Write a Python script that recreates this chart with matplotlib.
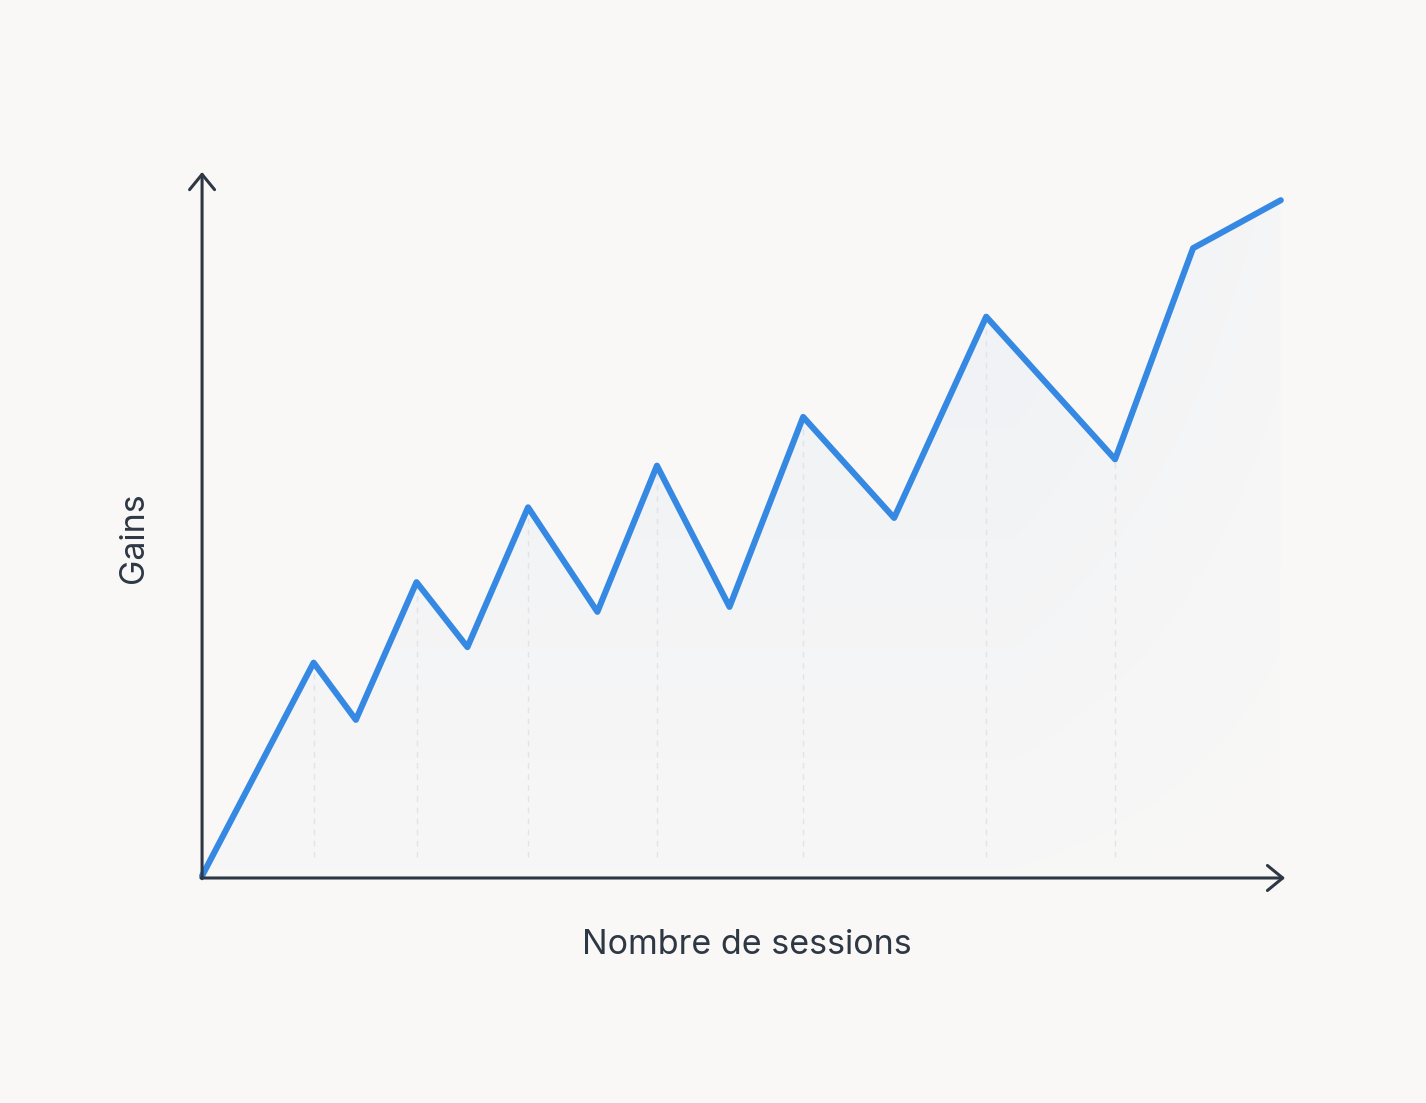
import matplotlib
import matplotlib.pyplot as plt
import numpy as np
from matplotlib.patches import Polygon

matplotlib.use("Agg")

# sessions (x) and gains (y), both on a 0-100 scale
sessions = [0, 10.3, 14.2, 19.8, 24.5, 30.1, 36.5, 42.0, 48.7, 55.5, 63.9, 72.4, 84.3, 91.5, 99.6]
gains = [0.3, 30.5, 22.4, 41.9, 32.7, 52.5, 37.7, 58.4, 38.4, 65.3, 51.0, 79.5, 59.3, 89.2, 96.0]
guide_idx = [1, 3, 5, 7, 9, 11, 12]

x_label = "Nombre de sessions"
y_label = "Gains"

BG = "#f9f8f7"
AXIS = "#2e3744"
BLUE = "#3589e3"


def main():
    fig = plt.figure(figsize=(14.26, 11.03), dpi=100, facecolor=BG)
    ax = fig.add_axes([0.1417, 0.2040, 0.7595, 0.6401])
    ax.set_facecolor(BG)
    ax.set_xlim(0, 100)
    ax.set_ylim(0, 100)
    for s in ax.spines.values():
        s.set_visible(False)
    ax.set_xticks([])
    ax.set_yticks([])

    x = np.array(sessions)
    y = np.array(gains)

    # soft gradient fill under the curve
    verts = list(zip(x, y)) + [(x[-1], 0), (x[0], 0)]
    poly = Polygon(verts, closed=True, facecolor="none", edgecolor="none")
    ax.add_patch(poly)
    gy = np.linspace(0, 1, 200).reshape(-1, 1)
    gx = np.linspace(0, 1, 200).reshape(1, -1)
    rgba = np.zeros((200, 200, 4))
    rgba[..., :3] = matplotlib.colors.to_rgb("#7fa8dc")
    rgba[..., 3] = (0.015 + 0.075 * gy) * (1 - 0.6 * np.clip((gx - 0.75) / 0.25, 0, 1))
    img = ax.imshow(rgba, extent=[0, 100, 0, 100], origin="lower",
                    aspect="auto", zorder=1, interpolation="bilinear")
    img.set_clip_path(poly)

    # faint dashed guides under selected points
    for i in guide_idx:
        ax.plot([x[i], x[i]], [3, y[i]], color="#e2e3e6", lw=1.0,
                ls=(0, (4, 4)), zorder=2)

    ax.plot(x, y, color=BLUE, lw=4.4, solid_joinstyle="round",
            solid_capstyle="round", zorder=4, clip_on=False)

    arrow = dict(arrowstyle="->,head_length=0.55,head_width=0.45",
                 color=AXIS, lw=2.2, shrinkA=0, shrinkB=0, mutation_scale=20)
    ax.annotate("", xy=(0, 100), xytext=(0, -0.1), arrowprops=arrow,
                annotation_clip=False, zorder=5)
    ax.annotate("", xy=(100, 0), xytext=(-0.1, 0), arrowprops=arrow,
                annotation_clip=False, zorder=5)

    fig.text(747 / 1426, 1 - 945 / 1103, x_label, ha="center", va="center",
             fontsize=24.5, color=AXIS, family="Inter")
    fig.text(134 / 1426, 1 - 538 / 1103, y_label, ha="center", va="center",
             rotation=90, fontsize=24.5, color=AXIS, family="Inter")

    fig.savefig("out.png", dpi=100, facecolor=BG)
    plt.close(fig)


if __name__ == "__main__":
    main()
